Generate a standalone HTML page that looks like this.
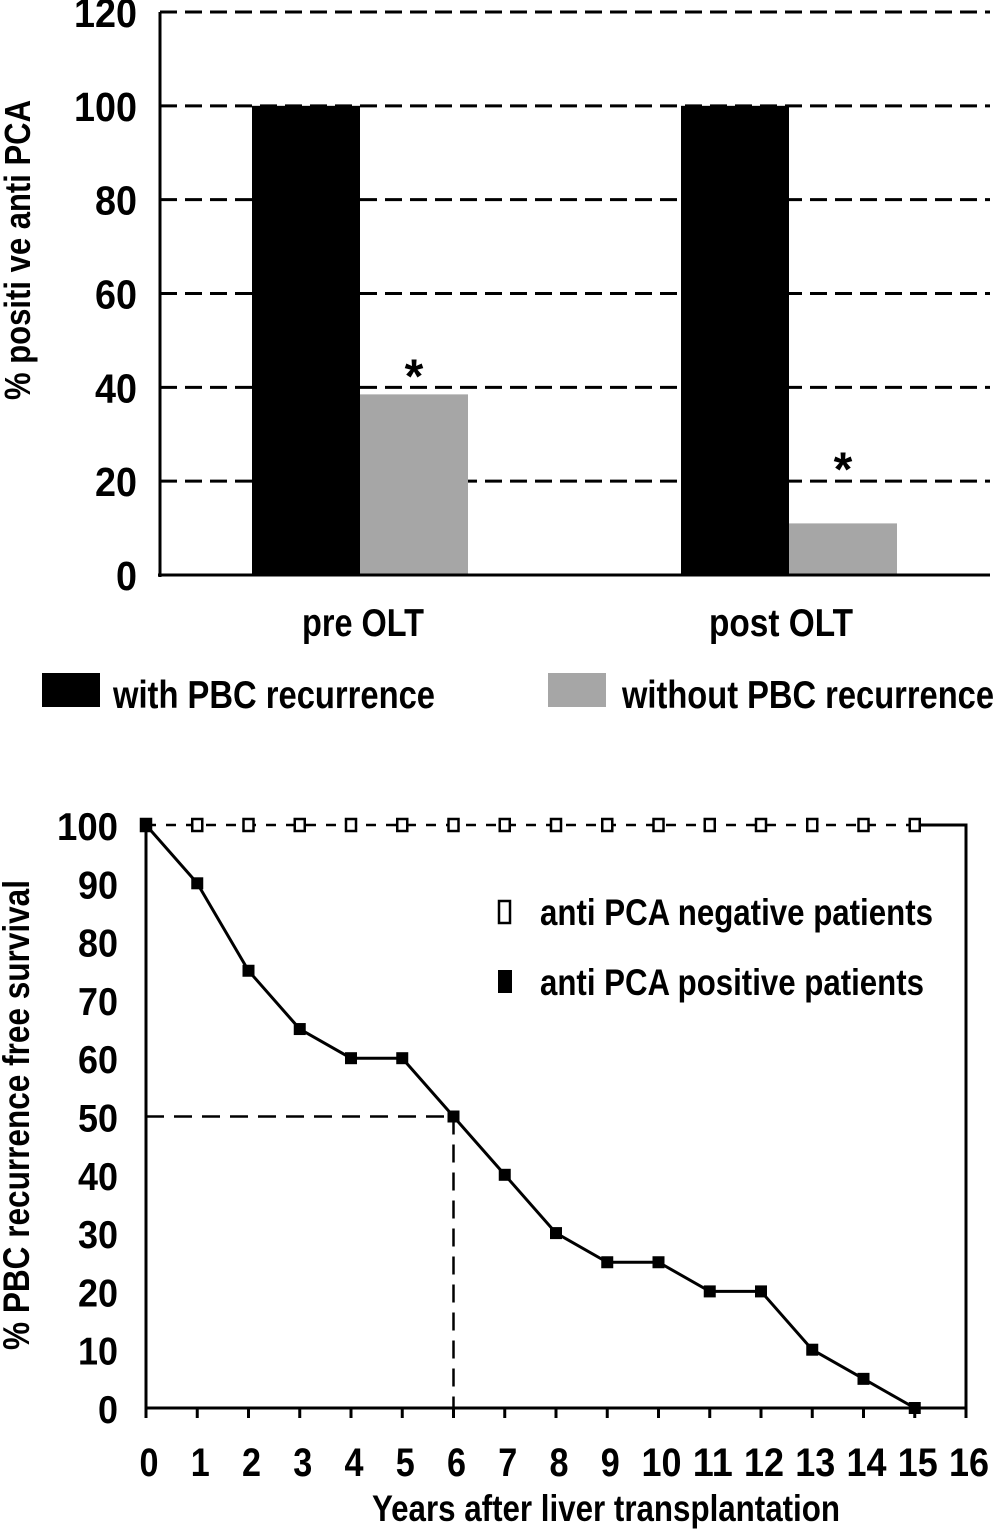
<!DOCTYPE html>
<html><head><meta charset="utf-8"><style>
html,body{margin:0;padding:0;background:#fff;}
svg{display:block;font-family:"Liberation Sans",sans-serif;font-weight:bold;}
</style></head><body>
<svg id="fig" width="998" height="1530" viewBox="0 0 998 1530"></svg>
<script>
// Top chart data
const barCategories = ["pre OLT", "post OLT"];
const withRecurrence = [100, 100];
const withoutRecurrence = [38.5, 11];
const barTicks = [0, 20, 40, 60, 80, 100, 120];
// Bottom chart data
const years = [0,1,2,3,4,5,6,7,8,9,10,11,12,13,14,15];
const positiveSurvival = [100,90,75,65,60,60,50,40,30,25,25,20,20,10,5,0];
const negativeSurvival = [100,100,100,100,100,100,100,100,100,100,100,100,100,100,100,100];
const survivalTicks = [0,10,20,30,40,50,60,70,80,90,100];
const yearTicks = [0,1,2,3,4,5,6,7,8,9,10,11,12,13,14,15,16];
const medianYear = 6;
const medianValue = 50;

const NS = "http://www.w3.org/2000/svg";
const svgRoot = document.getElementById("fig");
function mk(tag, attrs, parent) {
  const e = document.createElementNS(NS, tag);
  for (const k in attrs) e.setAttribute(k, attrs[k]);
  (parent || svgRoot).appendChild(e);
  return e;
}
function txt(s, attrs, parent) { const e = mk("text", attrs, parent); e.textContent = s; return e; }

// ---------- Top bar chart ----------
const tY = v => 575 - v * (563 / 120);
const topGroup = mk("g", {});


barTicks.forEach(t => {
  if (t > 0) {
    const g = mk("line", {x1:160, x2:990, y1:tY(t), y2:tY(t), stroke:"#000", "stroke-width":3, "stroke-dasharray":"17,8"}, topGroup);
    
    
  }
  const l = txt(String(t), {x:137, y:tY(t) + 15, "text-anchor":"end", "font-size":41, textLength:String(t).length * 21, lengthAdjust:"spacingAndGlyphs"}, topGroup);
  
  
});
const centers = [360, 789];
const bw = 108;
barCategories.forEach((c, i) => {
  const b1 = mk("rect", {x:centers[i] - bw, y:tY(withRecurrence[i]), width:bw, height:tY(0) - tY(withRecurrence[i]), fill:"#000"}, topGroup);
  
  
  const b2 = mk("rect", {x:centers[i], y:tY(withoutRecurrence[i]), width:bw, height:tY(0) - tY(withoutRecurrence[i]), fill:"#a6a6a6"}, topGroup);
  
  
  const s = txt("*", {x:centers[i] + bw / 2, y:tY(withoutRecurrence[i]) + (i ? -38 : -2), "text-anchor":"middle", "font-size":48}, topGroup);
  
  
  const cl = txt(c, {x:centers[i] + (i ? -8 : 3), y:636, "text-anchor":"middle", "font-size":39, textLength: i ? 144 : 122, lengthAdjust:"spacingAndGlyphs"}, topGroup);
  
  
});
const ya = mk("line", {x1:160, x2:160, y1:12, y2:577, stroke:"#000", "stroke-width":3}, topGroup);


const xa = mk("line", {x1:158, x2:990, y1:575, y2:575, stroke:"#000", "stroke-width":3}, topGroup);


const yt = txt("% positi ve anti PCA", {transform:"translate(30,250) rotate(-90)", "text-anchor":"middle", "font-size":36, textLength:300, lengthAdjust:"spacingAndGlyphs"}, topGroup);


const lg1 = mk("rect", {x:42, y:673, width:58, height:34, fill:"#000"}, topGroup);


const lt1 = txt("with PBC recurrence", {x:113, y:708, "font-size":39, textLength:322, lengthAdjust:"spacingAndGlyphs"}, topGroup);


const lg2 = mk("rect", {x:548, y:673, width:58, height:34, fill:"#a6a6a6"}, topGroup);


const lt2 = txt("without PBC recurrence", {x:622, y:708, "font-size":39, textLength:372, lengthAdjust:"spacingAndGlyphs"}, topGroup);



// ---------- Bottom survival chart ----------
const sx = v => 146 + v * (820 / 16);
const sy = v => 1408 - v * (583 / 100);
const bot = mk("g", {});


survivalTicks.forEach(t => {
  const l = txt(String(t), {x:118, y:sy(t) + 15, "text-anchor":"end", "font-size":39, textLength: t >= 100 ? 61 : (t >= 10 ? 40 : 20), lengthAdjust:"spacingAndGlyphs"}, bot);
  
  
});
yearTicks.forEach(t => {
  const tk = mk("line", {x1:sx(t), x2:sx(t), y1:1408, y2:1418, stroke:"#000", "stroke-width":3}, bot);
  
  
  const l = txt(String(t), {x:sx(t) + 3, y:1476, "text-anchor":"middle", "font-size":40, textLength: t >= 10 ? 40 : 19, lengthAdjust:"spacingAndGlyphs"}, bot);
  
  
});
const mh = mk("line", {x1:sx(0), x2:sx(medianYear), y1:sy(medianValue), y2:sy(medianValue), stroke:"#000", "stroke-width":2.5, "stroke-dasharray":"18,10"}, bot);


const mv = mk("line", {x1:sx(medianYear), x2:sx(medianYear), y1:sy(medianValue), y2:sy(0), stroke:"#000", "stroke-width":2.5, "stroke-dasharray":"18,10"}, bot);


const ax = mk("polyline", {points:`${sx(0)},${sy(100)-4} ${sx(0)},${sy(0)} ${sx(16)},${sy(0)} ${sx(16)},${sy(100)} ${sx(15)},${sy(100)}`, fill:"none", stroke:"#000", "stroke-width":3}, bot);


const negLine = mk("polyline", {points: years.map((y, i) => sx(y) + "," + sy(negativeSurvival[i])).join(" "), fill:"none", stroke:"#000", "stroke-width":2.5, "stroke-dasharray":"10,10"}, bot);


years.forEach((y, i) => {
  const m = mk("rect", {x:sx(y) - 5, y:sy(negativeSurvival[i]) - 6, width:10, height:12, fill:"#fff", stroke:"#000", "stroke-width":2.5}, bot);
  
  
});
const posLine = mk("polyline", {points: years.map((y, i) => sx(y) + "," + sy(positiveSurvival[i])).join(" "), fill:"none", stroke:"#000", "stroke-width":3}, bot);


years.forEach((y, i) => {
  const m = mk("rect", {x:sx(y) - 6, y:sy(positiveSurvival[i]) - 6, width:12, height:12, fill:"#000"}, bot);
  
  
});
const ln1 = mk("rect", {x:499, y:901, width:11, height:22, fill:"#fff", stroke:"#000", "stroke-width":2.5}, bot);


const lnt = txt("anti PCA negative patients", {x:540, y:925, "font-size":37, textLength:393, lengthAdjust:"spacingAndGlyphs"}, bot);


const lp1 = mk("rect", {x:498, y:970, width:14, height:23, fill:"#000"}, bot);


const lpt = txt("anti PCA positive patients", {x:540, y:995, "font-size":37, textLength:384, lengthAdjust:"spacingAndGlyphs"}, bot);


const xt = txt("Years after liver transplantation", {x:606, y:1521, "text-anchor":"middle", "font-size":37, textLength:468, lengthAdjust:"spacingAndGlyphs"}, bot);


const yt2 = txt("% PBC recurrence free survival", {transform:"translate(29,1115) rotate(-90)", "text-anchor":"middle", "font-size":37, textLength:470, lengthAdjust:"spacingAndGlyphs"}, bot);


</script>
</body></html>
